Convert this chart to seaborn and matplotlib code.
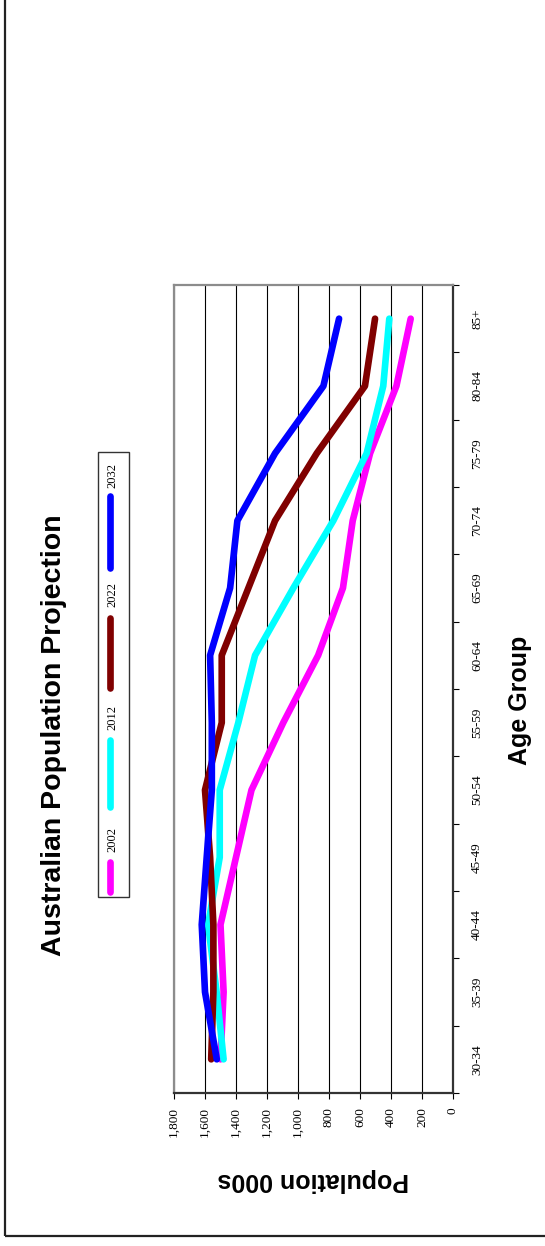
import numpy as np
import matplotlib
matplotlib.use('Agg')
import matplotlib.pyplot as plt
import pandas as pd
import seaborn as sns
from matplotlib.lines import Line2D
from matplotlib.patches import Rectangle

sns.set_theme(style='white')
plt.rcParams['font.family'] = ['Liberation Sans', 'DejaVu Sans']
plt.rcParams.update({'text.color': 'black', 'xtick.color': 'black',
                     'ytick.color': 'black', 'axes.labelcolor': 'black'})

age_groups = ['30-34', '35-39', '40-44', '45-49', '50-54', '55-59',
              '60-64', '65-69', '70-74', '75-79', '80-84', '85+']
years = ['2002', '2012', '2022', '2032']
pop_2002 = [1500, 1480, 1500, 1400, 1300, 1095, 870, 710, 647, 535, 365, 273]
pop_2012 = [1480, 1525, 1580, 1505, 1505, 1385, 1277, 1030, 772, 557, 450, 411]
pop_2022 = [1560, 1546, 1546, 1567, 1600, 1492, 1492, 1320, 1148, 879, 568, 503]
pop_2032 = [1524, 1600, 1621, 1589, 1556, 1556, 1567, 1438, 1391, 1148, 836, 735]
colors = ['#FF00FF', '#00FFFF', '#800000', '#0000FF']
value_ticks = list(range(0, 1801, 200))

df = pd.DataFrame({
    'age': age_groups * 4,
    'pos': list(range(len(age_groups))) * 4,
    'year': np.repeat(years, len(age_groups)),
    'pop': pop_2002 + pop_2012 + pop_2022 + pop_2032,
})

W, H = 545, 1246


def fx(px):
    return px / W


def fy(py):
    return 1 - py / H


serif = ['Liberation Serif', 'DejaVu Serif']

fig = plt.figure(figsize=(W / 100, H / 100), dpi=100)
fig.patch.set_facecolor('white')

# outer chart border
fig.add_artist(Rectangle((fx(5), fy(1236)), fx(560) - fx(5), fy(-20) - fy(1236),
                         transform=fig.transFigure, fill=False,
                         edgecolor='#222222', linewidth=1.6))

ax = fig.add_axes([fx(174), fy(1093), (453 - 174) / W, (1093 - 285) / H])
ax.set_axisbelow(True)

sns.lineplot(data=df, x='pop', y='pos', hue='year', hue_order=years,
             palette=colors, orient='y', linewidth=4.8, legend=False,
             solid_capstyle='round', solid_joinstyle='round', ax=ax)

ax.set_xlim(1800, 0)
ax.set_ylim(-0.5, len(age_groups) - 0.5)

# value axis (at bottom after rotation)
ax.set_xticks(value_ticks)
ax.set_xticklabels([f'{v:,}' for v in value_ticks], rotation=90,
                   family=serif, fontsize=9.5, va='top', ha='center')
ax.tick_params(axis='x', bottom=True, length=4, width=0.8,
               direction='out', pad=6, colors='black')
ax.grid(axis='x', color='black', linewidth=0.8)
ax.grid(axis='y', visible=False)

# category axis (on the right after rotation)
ax.yaxis.tick_right()
ax.set_yticks(np.arange(-0.5, len(age_groups), 1))
ax.set_yticklabels([])
ax.set_yticks(np.arange(len(age_groups)), minor=True)
ax.set_yticklabels(age_groups, minor=True, rotation=90, family=serif,
                   fontsize=9.5, va='center', ha='left', color='black')
ax.tick_params(axis='y', which='major', right=True, left=False, length=4,
               width=0.8, direction='out', colors='black')
ax.tick_params(axis='y', which='minor', right=True, left=False, length=0,
               pad=13)

ax.set_xlabel('')
ax.set_ylabel('')

for side in ['left', 'top']:
    ax.spines[side].set_color('#8c8c8c')
    ax.spines[side].set_linewidth(1.6)
for side in ['right', 'bottom']:
    ax.spines[side].set_color('#333333')
    ax.spines[side].set_linewidth(1.6)

# titles, rotated like the rest of the chart
fig.text(fx(54), fy(735), 'Australian Population Projection', rotation=90,
         ha='center', va='center', fontsize=20.5, fontweight='bold')
fig.text(fx(520), fy(700), 'Age Group', rotation=90,
         ha='center', va='center', fontsize=18, fontweight='bold')
fig.text(fx(313), fy(1180), 'Population 000s', rotation=180,
         ha='center', va='center', fontsize=18, fontweight='bold')

# legend box, entries stacked bottom to top
fig.add_artist(Rectangle((fx(97.5), fy(897)), fx(128.5) - fx(97.5), fy(451.5) - fy(897),
                         transform=fig.transFigure, fill=False,
                         edgecolor='#333333', linewidth=1.0))
legend_lines = [(862, 892), (740, 807), (618, 688), (496, 568)]
legend_text_y = [839, 717, 595, 476]
for year, col, (y0, y1), ty in zip(years, colors, legend_lines, legend_text_y):
    fig.add_artist(Line2D([fx(110), fx(110)], [fy(y0), fy(y1)],
                          transform=fig.transFigure, color=col, linewidth=4.8,
                          solid_capstyle='round'))
    fig.text(fx(112), fy(ty), year, rotation=90, ha='center', va='center',
             fontsize=9, family=serif)

fig.savefig('out.png', dpi=100, facecolor='white')
